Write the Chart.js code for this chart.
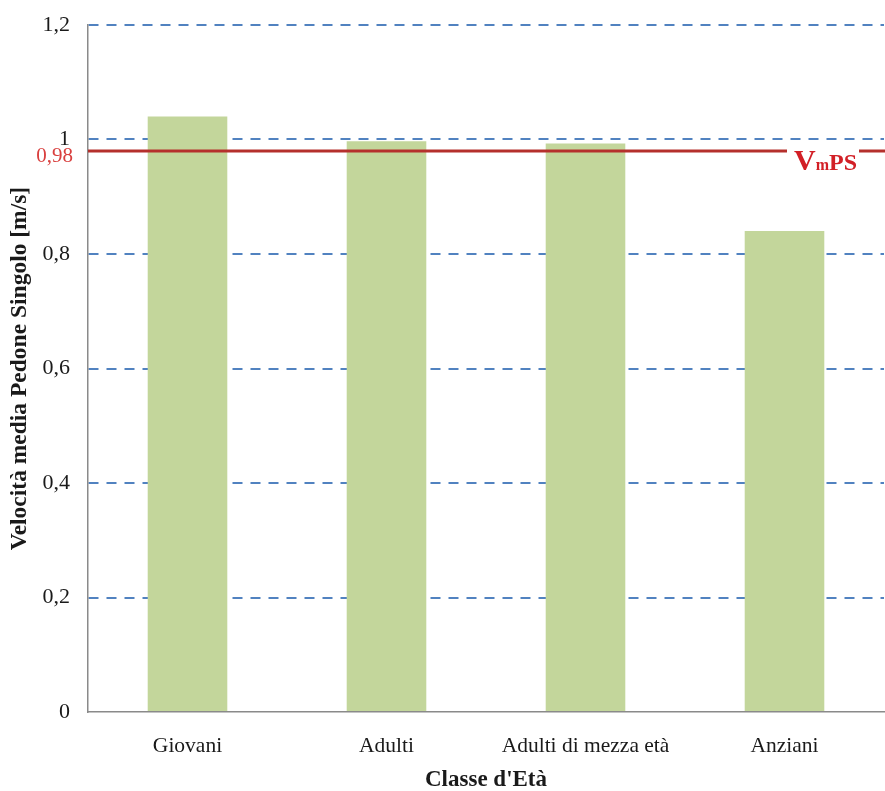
<!DOCTYPE html>
<html>
<head>
<meta charset="utf-8">
<script src="https://cdn.jsdelivr.net/npm/chart.js@4.4.1/dist/chart.umd.min.js"></script>
<style>
  html, body { margin: 0; padding: 0; background: #ffffff; }
  #wrap { width: 885px; height: 791px; }
</style>
</head>
<body>
<div id="wrap"><canvas id="chart" width="885" height="791"></canvas></div>
<script>
// Age classes and mean single-pedestrian walking speed (m/s)
const categories = ['Giovani', 'Adulti', 'Adulti di mezza età', 'Anziani'];
const speeds = [1.04, 0.997, 0.993, 0.84];
// Overall mean speed (VmPS)
const meanSpeed = 0.98;
const meanLabel = ['V', 'm', 'PS'];
const yTicks = [0, 0.2, 0.4, 0.6, 0.8, 1, 1.2];

const SERIF = '"Liberation Serif", "Times New Roman", serif';
const fmt = v => String(Math.round(v * 100) / 100).replace('.', ',');

// Draws the mean speed reference line, its value next to the y axis and the VmPS tag
const meanLinePlugin = {
  id: 'meanLine',
  afterDatasetsDraw(chart) {
    const { ctx, chartArea } = chart;
    const y = chart.scales.y.getPixelForValue(meanSpeed);
    ctx.save();

    // tag text pieces: V (large), m (small), PS (medium)
    const parts = [
      { t: meanLabel[0], f: 'bold 30px ' + SERIF },
      { t: meanLabel[1], f: 'bold 16px ' + SERIF },
      { t: meanLabel[2], f: 'bold 24px ' + SERIF }
    ];
    let total = 0;
    parts.forEach(p => { ctx.font = p.f; p.w = ctx.measureText(p.t).width; total += p.w; });
    const tagEnd = chart.width - 28;
    const tagStart = tagEnd - total;

    // line with a gap above the tag
    ctx.strokeStyle = '#b5302c';
    ctx.lineWidth = 3;
    ctx.beginPath();
    ctx.moveTo(chartArea.left, y);
    ctx.lineTo(tagStart - 7, y);
    ctx.moveTo(tagEnd + 2, y);
    ctx.lineTo(chart.width, y);
    ctx.stroke();

    ctx.fillStyle = '#d21f26';
    ctx.textBaseline = 'alphabetic';
    ctx.textAlign = 'left';
    let x = tagStart;
    parts.forEach(p => { ctx.font = p.f; ctx.fillText(p.t, x, y + 19); x += p.w; });

    // value label under the "1" tick
    ctx.font = '21px ' + SERIF;
    ctx.fillStyle = '#d9403f';
    ctx.textAlign = 'right';
    ctx.textBaseline = 'middle';
    ctx.fillText(fmt(meanSpeed), chartArea.left - 15, y + 6);
    ctx.restore();
  }
};

new Chart(document.getElementById('chart'), {
  type: 'bar',
  data: {
    labels: categories,
    datasets: [{
      data: speeds,
      backgroundColor: '#c3d69b',
      borderWidth: 0,
      categoryPercentage: 1,
      barPercentage: 0.4
    }]
  },
  options: {
    responsive: false,
    animation: false,
    devicePixelRatio: 1,
    layout: { padding: { top: 25, right: 1, left: 0, bottom: 0 } },
    plugins: { legend: { display: false }, tooltip: { enabled: false } },
    scales: {
      x: {
        grid: { display: false, drawTicks: false },
        border: { display: true, color: '#8a8a8a', width: 1.5 },
        ticks: { color: '#1a1a1a', padding: 21, font: { family: SERIF, size: 21.5 } },
        title: {
          display: true, text: "Classe d'Età", color: '#1a1a1a',
          font: { family: SERIF, size: 23, weight: 'bold' },
          padding: { top: 0, bottom: -3 }
        },
        afterFit(scale) { scale.height = 79; }
      },
      y: {
        min: 0, max: 1.2,
        afterBuildTicks(scale) { scale.ticks = yTicks.map(v => ({ value: v })); },
        grid: {
          drawTicks: false,
          color: ctx => (ctx.tick && ctx.tick.value === 0) ? 'rgba(0,0,0,0)' : '#5182c0',
          lineWidth: 2
        },
        border: { display: true, color: '#8a8a8a', width: 1.5, dash: [10, 8] },
        ticks: {
          color: '#1a1a1a', padding: 18,
          font: { family: SERIF, size: 22 },
          callback: v => fmt(v)
        },
        title: {
          display: true, text: 'Velocità media Pedone Singolo [m/s]', color: '#1a1a1a',
          font: { family: SERIF, size: 23.5, weight: 'bold' },
          padding: { top: 6, bottom: 0 }
        },
        afterFit(scale) {
          scale.width = 88;
          scale.paddingTop = 0;
          scale.paddingBottom = 0;
        }
      }
    }
  },
  plugins: [meanLinePlugin]
});
</script>
</body>
</html>
